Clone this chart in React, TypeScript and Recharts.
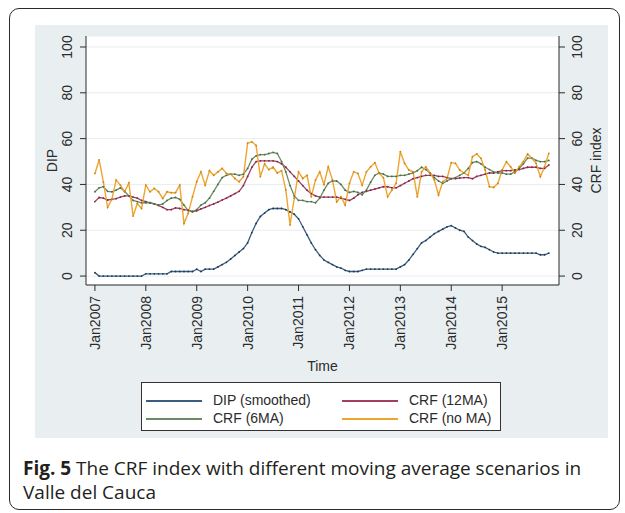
import React from 'react';
import { LineChart, Line, XAxis, YAxis, CartesianGrid } from 'recharts';

// monthly series, Jan2007 .. Dec2015 (one row per year)
const dipSmoothed = [
  1.5, 0, 0, 0, 0, 0, 0, 0, 0, 0, 0, 0,
  1, 1, 1, 1, 1, 1, 2, 2, 2, 2, 2, 2,
  3, 2, 3, 3, 3, 4, 5, 6, 7.5, 9, 10.5, 12,
  14.5, 19, 23, 26, 27.5, 29, 29.5, 29.5, 29.5, 29, 28, 27,
  25, 21.5, 18, 14.5, 11.5, 9, 7, 6, 5, 4, 3.5, 2.5,
  2, 2, 2, 2.5, 3, 3, 3, 3, 3, 3, 3, 3,
  4, 5, 7, 9.5, 12, 14.5, 15.5, 17, 18.5, 19.5, 20.5, 21.5,
  22, 21, 20, 19.5, 17, 15.5, 14, 13, 12.5, 11.5, 10.5, 10,
  10, 10, 10, 10, 10, 10, 10, 10, 10, 9.3, 9.3, 10,
];

const crf12ma = [
  32.5, 34.3, 34, 33.2, 33.5, 33.8, 34.5, 35, 35, 34.5, 34, 33,
  32.5, 32, 31.5, 30.8, 30, 29, 29, 29.8, 29.5, 29, 28.8, 28.2,
  28.5, 29.3, 30, 30.8, 31.5, 32.3, 33.2, 34, 35, 36, 37, 39.5,
  43.5, 47.5, 50, 50.3, 50.3, 50.3, 50.3, 50, 49, 47.5, 45.5, 43.5,
  41.5, 39.5, 37.5, 36, 35, 34.5, 34.5, 34.5, 34.5, 34.5, 34, 33.5,
  33, 34, 35.5, 36.5, 37, 37.5, 38, 38.5, 39, 39, 38.5, 38.5,
  39.5, 40.5, 41.5, 42.5, 43, 43.5, 44, 44, 44, 43.5, 43.5, 43,
  42.5, 42.5, 42.8, 43, 43, 42.5, 43.5, 44, 44.5, 45, 45, 45.5,
  46, 46, 46, 46.3, 46.5, 47, 47.5, 47.5, 47.5, 47, 47, 48.5,
];

const crf6ma = [
  36.8, 38.5, 39, 37, 36.8, 37.5, 38.5, 37, 35, 33, 32.5, 32,
  32, 32, 31.5, 31, 31.5, 33, 34, 34.3, 33.5, 31, 28.5, 28,
  29, 31, 32, 34, 37, 40, 43, 44, 44.5, 44.5, 44, 44.5,
  47, 51, 52.5, 53, 53, 53.5, 54, 53.5, 50, 45.5, 39.5, 35,
  33, 33, 32.5, 32.5, 32, 34, 37.5, 40.5, 41.5, 41.5, 40, 37.5,
  36.5, 37, 36.5, 35.5, 37.5, 41, 44, 45, 44.5, 43.5, 43.5, 43.5,
  44, 44, 44.5, 45, 46, 47.5, 46.5, 45, 43, 41.5, 40.5, 41.5,
  42.5, 43, 44, 45, 47, 49.5, 50, 49, 47.5, 46.5, 45.5, 45,
  45, 44.5, 44.5, 45.5, 47, 49, 51.5, 51.5, 50.5, 50, 50, 50.5,
];

const crfNoMa = [
  44.8, 50.7, 41, 30, 33.5, 41.9, 39.7, 36.8, 40.7, 26.2, 31.7, 29.5,
  39.7, 36.8, 38.3, 36.8, 33.9, 36.8, 36.4, 36.4, 39.7, 23, 27.4, 34.6,
  41.2, 45.5, 39.7, 46, 44, 45.5, 47, 44.8, 44.5, 42.6, 41.2, 43.4,
  58, 58.6, 57, 43.4, 49, 46.5, 47.5, 45, 46, 37.6, 22.3, 34,
  45.5, 42.6, 44, 34.6, 41.9, 45.5, 40, 47.7, 42, 32.4, 34.6, 31,
  40.5, 45.5, 44.8, 39.7, 45.5, 47.7, 49.5, 44.8, 43, 34.6, 37.5, 40.5,
  54.3, 49.2, 46.3, 45.5, 34.6, 45.5, 47.7, 45, 42, 35.4, 41.2, 42.6,
  49.5, 49.2, 46.3, 45, 44, 52.1, 53.3, 51.4, 46.3, 39, 38.7, 40.5,
  46.3, 49.9, 47.7, 45, 47.7, 50, 53.3, 51.4, 49.2, 43.4, 47.7, 53.6,
];

const tickMonths = [0, 12, 24, 36, 48, 60, 72, 84, 96];
const tickLabels = ['Jan2007', 'Jan2008', 'Jan2009', 'Jan2010', 'Jan2011', 'Jan2012', 'Jan2013', 'Jan2014', 'Jan2015'];
const yTicks = [0, 20, 40, 60, 80, 100];

const COLORS = {
  dip: '#3a5e82',
  crf12: '#a53f60',
  crf6: '#6a8c63',
  crfRaw: '#eda52f',
};

const data = dipSmoothed.map((v, i) => ({
  m: i,
  dip: v,
  crf12: crf12ma[i],
  crf6: crf6ma[i],
  crfRaw: crfNoMa[i],
}));

const INK = '#2b2b2b';

function XTick(props: any) {
  const { x, y, payload } = props;
  const idx = tickMonths.indexOf(payload.value);
  const yy = y + 3;
  return (
    <text x={x} y={yy} transform={`rotate(-90 ${x} ${yy})`} textAnchor="end" dy="0.35em" fontSize={14} fill={INK}>
      {tickLabels[idx]}
    </text>
  );
}

function YTick(props: any) {
  const { x, y, payload, shift } = props;
  const xx = x + shift;
  return (
    <text x={xx} y={y} transform={`rotate(-90 ${xx} ${y})`} textAnchor="middle" dy="0.35em" fontSize={14} fill={INK}>
      {payload.value}
    </text>
  );
}

const sideTitle = (text: string, dx: number) => (props: any) => {
  const { viewBox } = props;
  const cx = viewBox.x + dx;
  const cy = viewBox.y + viewBox.height / 2;
  return (
    <text x={cx} y={cy} transform={`rotate(-90 ${cx} ${cy})`} textAnchor="middle" dy="0.35em" fontSize={14} fill={INK}>
      {text}
    </text>
  );
};

const legendItems = [
  { name: 'DIP (smoothed)', color: COLORS.dip, left: 4, top: 18 },
  { name: 'CRF (12MA)', color: COLORS.crf12, left: 200, top: 18 },
  { name: 'CRF (6MA)', color: COLORS.crf6, left: 4, top: 36 },
  { name: 'CRF (no MA)', color: COLORS.crfRaw, left: 200, top: 36 },
];

export default function App() {
  const axisFont = '"Liberation Sans", Arial, sans-serif';
  return (
    <div style={{ position: 'absolute', left: 0, top: 0, width: 625, height: 513, background: '#fff', fontFamily: axisFont }}>
      {/* figure frame */}
      <div style={{ position: 'absolute', left: 9, top: 8, width: 609, height: 500, border: '1.5px solid #2a2a2a', borderRadius: 10 }} />

      <div style={{ position: 'absolute', left: 35, top: 25, width: 573, height: 413, background: '#e9eff1' }}>
        <LineChart width={573} height={413} data={data} margin={{ top: 11, right: 0, bottom: 0, left: 0 }}>
          <CartesianGrid vertical={false} fill="#ffffff" stroke="#e9edee" />
          <XAxis
            dataKey="m"
            type="number"
            domain={[-2.1, 109.4]}
            ticks={tickMonths}
            interval={0}
            allowDataOverflow
            height={153}
            tickSize={6}
            tick={<XTick />}
            tickLine={{ stroke: INK }}
            axisLine={{ stroke: INK }}
            label={{ value: 'Time', position: 'insideTop', offset: 76, fontSize: 14, fill: INK }}
          />
          <YAxis
            domain={[-3.9, 104.8]}
            ticks={yTicks}
            interval={0}
            allowDataOverflow
            width={51}
            tickSize={6}
            tick={<YTick shift={-11} />}
            tickLine={{ stroke: INK }}
            axisLine={{ stroke: INK }}
            label={{ content: sideTitle('DIP', 17) }}
          />
          <YAxis
            yAxisId="right"
            orientation="right"
            domain={[-3.9, 104.8]}
            ticks={yTicks}
            interval={0}
            allowDataOverflow
            width={49}
            tickSize={6}
            tick={<YTick shift={10} />}
            tickLine={{ stroke: INK }}
            axisLine={{ stroke: INK }}
            label={{ content: sideTitle('CRF index', 37) }}
          />
          <Line dataKey="dip" stroke={COLORS.dip} strokeWidth={1.3} dot={{ r: 0.9, fill: '#22384f', stroke: 'none' }} isAnimationActive={false} />
          <Line yAxisId="right" dataKey="crf12" stroke={COLORS.crf12} strokeWidth={1.3} dot={{ r: 0.9, fill: '#7a2a45', stroke: 'none' }} isAnimationActive={false} />
          <Line yAxisId="right" dataKey="crf6" stroke={COLORS.crf6} strokeWidth={1.3} dot={{ r: 0.9, fill: '#4d6b48', stroke: 'none' }} isAnimationActive={false} />
          <Line yAxisId="right" dataKey="crfRaw" stroke={COLORS.crfRaw} strokeWidth={1.4} dot={{ r: 0.9, fill: '#c98418', stroke: 'none' }} isAnimationActive={false} />
        </LineChart>
      </div>

      {/* legend */}
      <div style={{ position: 'absolute', left: 141, top: 382, width: 358, height: 47, background: '#fff', border: '1px solid #333' }}>
        {legendItems.map((it) => (
          <div key={it.name}>
            <div style={{ position: 'absolute', left: it.left, top: it.top - 1, width: 56, height: 1.5, background: it.color }} />
            <div style={{ position: 'absolute', left: it.left + 67, top: it.top - 9, fontSize: 14, lineHeight: '17px', color: INK, whiteSpace: 'nowrap' }}>
              {it.name}
            </div>
          </div>
        ))}
      </div>

      {/* caption */}
      <div style={{ position: 'absolute', left: 23, top: 456, fontFamily: '"Open Sans", sans-serif', fontSize: 19, lineHeight: '24px', color: '#231f20', whiteSpace: 'nowrap' }}>
        <div><b>Fig. 5</b> The CRF index with different moving average scenarios in</div>
        <div>Valle del Cauca</div>
      </div>
    </div>
  );
}
